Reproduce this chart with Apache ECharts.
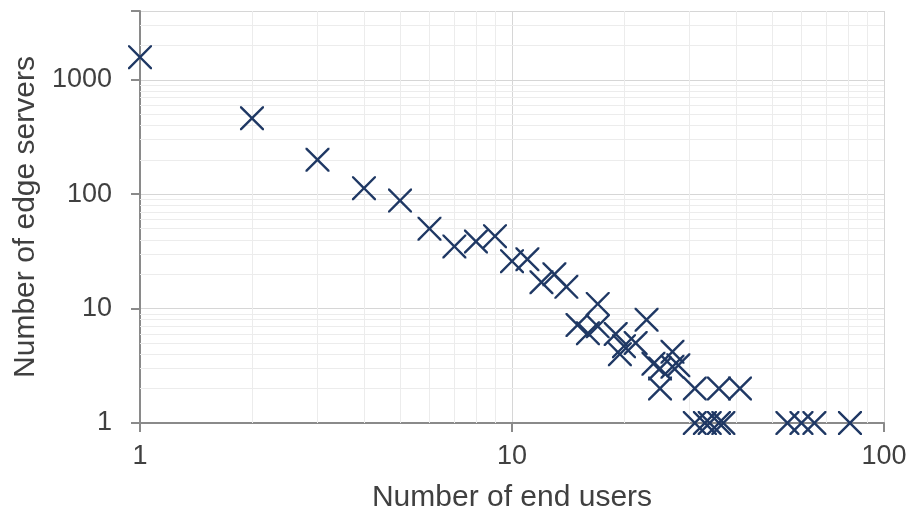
<!DOCTYPE html>
<html>
<head>
<meta charset="utf-8">
<script src="https://cdn.jsdelivr.net/npm/echarts@6/dist/echarts.min.js"></script>
<style>html,body{margin:0;padding:0;background:#fff;}#c{width:911px;height:514px;}</style>
</head>
<body>
<div id="c"></div>
<script>
// Data (log-log scatter)
var endUsers    = [1, 2, 3, 4, 5, 6, 7, 8, 9, 10, 11, 12, 13, 14, 15, 16, 17, 17, 19, 19.5, 20, 21.5, 23, 24, 25, 25, 27, 28, 27, 31, 31, 33, 34, 36, 36, 37, 41, 55, 60, 65, 81];
var edgeServers = [1580, 462, 200, 113, 88, 50, 35, 38.6, 43, 26, 27, 17, 20, 15.5, 7.2, 6.1, 11, 7, 6, 4, 4.7, 5, 8, 3.3, 3, 2, 3.1, 3.2, 4.2, 2, 1, 1, 1, 2, 1, 1, 2, 1, 1, 1, 1];
var xTickLabels = [1, 10, 100];
var yTickLabels = [1, 10, 100, 1000];
var xMinorGrid = [2, 3, 4, 5, 6, 7, 8, 9, 20, 30, 40, 50, 60, 70, 80, 90];
var yMinorGrid = [2, 3, 4, 5, 6, 7, 8, 9, 20, 30, 40, 50, 60, 70, 80, 90, 200, 300, 400, 500, 600, 700, 800, 900, 2000, 3000];

var points = endUsers.map(function (x, i) { return [x, edgeServers[i]]; });
var xPath = 'path://M0,0 L1.7,0 L12,10.3 L22.3,0 L24,0 L24,1.7 L13.7,12 L24,22.3 L24,24 L22.3,24 L12,13.7 L1.7,24 L0,24 L0,22.3 L10.3,12 L0,1.7 Z';

function labelFmt(list) {
  return function (v) {
    var r = Math.round(v);
    return list.indexOf(r) >= 0 && Math.abs(v - r) < 1e-6 ? String(r) : '';
  };
}

var minorLines = xMinorGrid.map(function (v) { return { xAxis: v }; })
  .concat(yMinorGrid.map(function (v) { return { yAxis: v }; }));

var FONT = 'Liberation Sans, Arial, sans-serif';
var chart = echarts.init(document.getElementById('c'), null, { renderer: 'canvas' });
chart.setOption({
  animation: false,
  backgroundColor: '#ffffff',
  textStyle: { fontFamily: FONT },
  grid: { left: 140, right: 27, top: 11, bottom: 91, containLabel: false, outerBoundsMode: 'none' },
  xAxis: {
    type: 'log', logBase: 10, min: 1, max: 100,
    name: 'Number of end users', nameLocation: 'middle', nameGap: 60,
    nameTextStyle: { fontSize: 30, color: '#404040', fontFamily: FONT },
    axisLine: { show: true, onZero: false, lineStyle: { color: '#8a8a8a', width: 2 } },
    axisTick: { show: true, inside: false, length: 9, lineStyle: { color: '#8a8a8a', width: 2 } },
    axisLabel: { fontSize: 27, color: '#404040', margin: 20, formatter: labelFmt(xTickLabels), fontFamily: FONT },
    splitLine: { show: true, lineStyle: { color: '#d6d6d6', width: 1 } }
  },
  yAxis: {
    type: 'log', logBase: 10, min: 1, max: 4000,
    name: 'Number of edge servers', nameLocation: 'middle', nameGap: 98, nameRotate: 90,
    nameTextStyle: { fontSize: 30, color: '#404040', fontFamily: FONT },
    axisLine: { show: true, onZero: false, lineStyle: { color: '#8a8a8a', width: 2 } },
    axisTick: { show: true, inside: false, length: 9, lineStyle: { color: '#8a8a8a', width: 2 } },
    axisLabel: { fontSize: 27, color: '#404040', margin: 28, formatter: labelFmt(yTickLabels), fontFamily: FONT },
    splitLine: { show: true, lineStyle: { color: '#d6d6d6', width: 1 } }
  },
  series: [
    {
      type: 'scatter', data: [], silent: true, z: 1,
      markLine: {
        silent: true, symbol: ['none', 'none'], animation: false,
        label: { show: false },
        lineStyle: { color: '#ececec', width: 1, type: 'solid' },
        data: minorLines
      }
    },
    {
      type: 'scatter', data: points, z: 5,
      symbol: xPath, symbolSize: 24,
      itemStyle: { color: '#1f3864', opacity: 1 }
    }
  ]
});
</script>
</body>
</html>
